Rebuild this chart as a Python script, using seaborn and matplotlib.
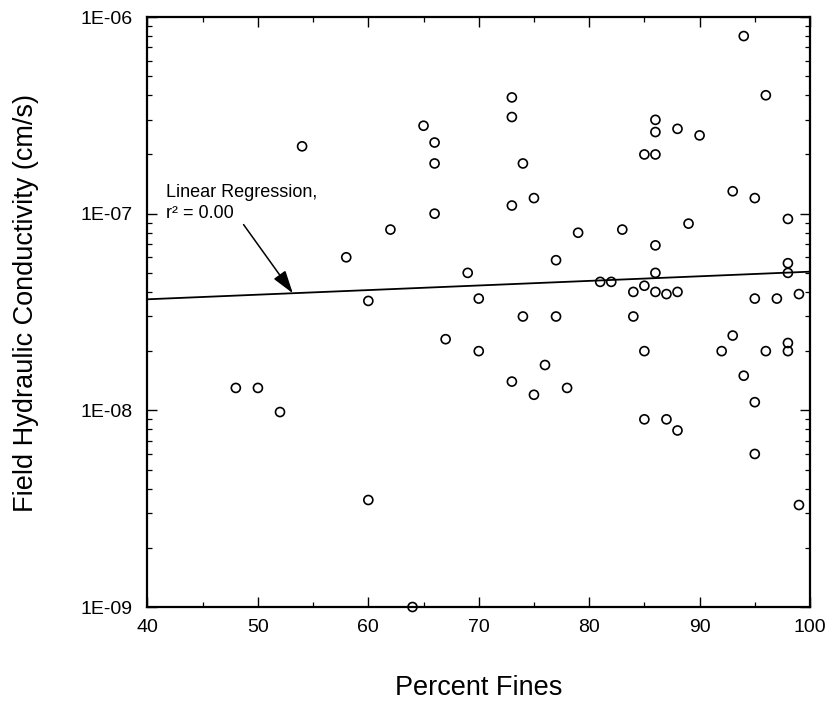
import numpy as np
import matplotlib
matplotlib.use("Agg")
import matplotlib.pyplot as plt
import matplotlib.ticker as mticker
import seaborn as sns

# Percent fines and field hydraulic conductivity (cm/s) for each site
percent_fines = [
    54, 65, 66, 66, 66, 62, 58, 60,
    94, 96, 73, 73, 86, 86, 88, 90, 85, 86, 74, 75, 73, 93, 95, 98,
    79, 83, 89, 86, 77, 98, 98, 86, 69, 70, 81, 82, 85, 84, 86, 87, 88,
    95, 97, 99,
    74, 77, 84, 70, 85, 92, 93, 96, 98, 98, 76, 73, 75, 78, 94, 95,
    85, 87, 88, 95, 99,
    67, 48, 50, 52, 60, 64,
]
conductivity = [
    2.2e-7, 2.8e-7, 2.3e-7, 1.8e-7, 1.0e-7, 8.3e-8, 6.0e-8, 3.6e-8,
    8.0e-7, 4.0e-7, 3.9e-7, 3.1e-7, 3.0e-7, 2.6e-7, 2.7e-7, 2.5e-7, 2.0e-7, 2.0e-7,
    1.8e-7, 1.2e-7, 1.1e-7, 1.3e-7, 1.2e-7, 9.4e-8,
    8.0e-8, 8.3e-8, 8.9e-8, 6.9e-8, 5.8e-8, 5.6e-8, 5.0e-8, 5.0e-8, 5.0e-8, 3.7e-8,
    4.5e-8, 4.5e-8, 4.3e-8, 4.0e-8, 4.0e-8, 3.9e-8, 4.0e-8,
    3.7e-8, 3.7e-8, 3.9e-8,
    3.0e-8, 3.0e-8, 3.0e-8, 2.0e-8, 2.0e-8, 2.0e-8, 2.4e-8, 2.0e-8, 2.0e-8, 2.2e-8,
    1.7e-8, 1.4e-8, 1.2e-8, 1.3e-8, 1.5e-8, 1.1e-8,
    9.0e-9, 9.0e-9, 7.9e-9, 6.0e-9, 3.3e-9,
    2.3e-8, 1.3e-8, 1.3e-8, 9.8e-9, 3.5e-9, 1.0e-9,
]

# Fitted regression line (log K vs. percent fines), evaluated at the axis ends
regression_fines = [40, 100]
regression_k = [3.67e-8, 5.07e-8]
regression_label = ["Linear Regression,", "r\u00b2 = 0.00"]

x_ticks = [40, 50, 60, 70, 80, 90, 100]
y_ticks = [1e-9, 1e-8, 1e-7, 1e-6]

sns.set_style("ticks")
plt.rcParams["font.family"] = ["Liberation Sans", "DejaVu Sans"]

fig = plt.figure(figsize=(8.28, 7.02), dpi=100)
ax = fig.add_axes([147.5 / 828, 1 - 607 / 702, 662.5 / 828, 590 / 702])

sns.scatterplot(x=percent_fines, y=conductivity, ax=ax, marker="o", s=42,
                linewidth=1.2, legend=False, zorder=3)
pts = ax.collections[-1]
pts.set_facecolor("none")
pts.set_edgecolor("black")
pts.set_clip_on(False)

sns.lineplot(x=regression_fines, y=regression_k, ax=ax, color="black",
             linewidth=1.3, zorder=2)

ax.set_yscale("log")
ax.set_xlim(40, 100)
ax.set_ylim(1e-9, 1e-6)

ax.xaxis.set_major_locator(mticker.FixedLocator(x_ticks))
ax.xaxis.set_minor_locator(mticker.MultipleLocator(5))
ax.yaxis.set_major_locator(mticker.FixedLocator(y_ticks))
ax.yaxis.set_minor_locator(mticker.LogLocator(base=10, subs=np.arange(2, 10)))
ax.yaxis.set_minor_formatter(mticker.NullFormatter())
ax.yaxis.set_major_formatter(
    mticker.FuncFormatter(lambda v, _: "1E{:+03d}".format(int(round(np.log10(v))))))

ax.tick_params(which="both", direction="in", top=True, right=True,
               color="black", labelsize=14, labelcolor="black")
ax.tick_params(which="major", length=7, width=1.0)
ax.tick_params(which="minor", length=3.5, width=0.9)
ax.tick_params(axis="y", which="major", pad=11)
ax.tick_params(axis="x", which="major", pad=9)

for sp in ax.spines.values():
    sp.set_visible(True)
    sp.set_linewidth(1.6)
    sp.set_color("black")

ax.set_xlabel("Percent Fines", fontsize=19.5, color="black")
ax.set_ylabel("Field Hydraulic Conductivity (cm/s)", fontsize=19.5, color="black")
ax.xaxis.label.set_va("center")
ax.yaxis.label.set_va("center")
ax.xaxis.set_label_coords(0.5, -0.137)
ax.yaxis.set_label_coords(-0.1834, 0.516)

# Regression note with arrow pointing at the fitted line
ax.text(0.028, 0.6954, regression_label[0], transform=ax.transAxes,
        fontsize=13, ha="left", va="baseline", color="black")
ax.text(0.028, 0.6593, regression_label[1], transform=ax.transAxes,
        fontsize=13, ha="left", va="baseline", color="black")
ax.annotate("", xy=(53.16, 3.94e-8), xytext=(48.7, 8.8e-8),
            arrowprops=dict(arrowstyle="-|>,head_length=0.7,head_width=0.22",
                            mutation_scale=20, color="black", lw=1.1,
                            shrinkA=0, shrinkB=0))

fig.savefig("out.png", dpi=100, facecolor="white")
